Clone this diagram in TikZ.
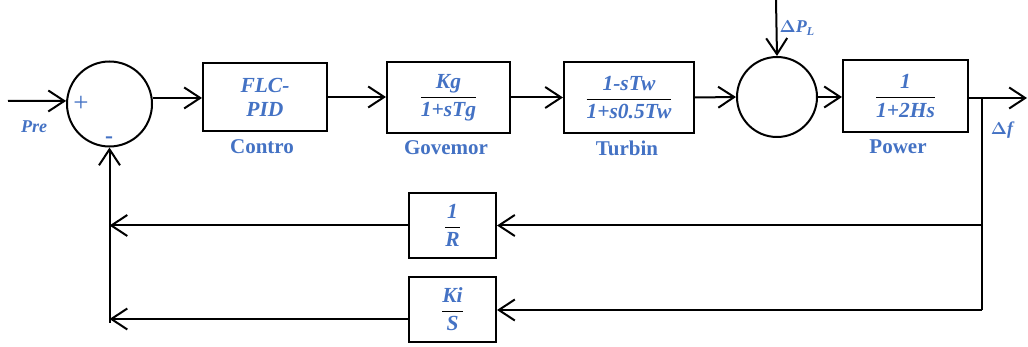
\documentclass[tikz,border=0pt]{standalone}
\usepackage{fontspec}
\usepackage{amsmath}
\setmainfont{Liberation Serif}
\usetikzlibrary{arrows.meta}
\definecolor{myblue}{RGB}{68,114,196}
\newcommand{\bfr}[2]{$\displaystyle\color{black}\frac{\color{myblue}\text{#1}}{\color{myblue}\text{#2}}$}
\begin{document}
\begin{tikzpicture}[x=1pt,y=-1pt,
  line width=2pt,
  arr/.style={-{Straight Barb[length=16pt,width=21pt,line width=2pt]}},
  blk/.style={draw, rectangle, inner sep=0pt, text=myblue, align=center,
    font=\fontsize{21.5}{24}\selectfont\bfseries\itshape},
  sumc/.style={draw, circle, inner sep=0pt},
  lbl/.style={text=myblue, inner sep=0pt, font=\fontsize{21}{22}\selectfont\bfseries},
  ilbl/.style={text=myblue, inner sep=0pt, font=\fontsize{18}{20}\selectfont\bfseries\itshape}]
\useasboundingbox (0,0) rectangle (1028,347);

% summing junctions
\node[sumc, minimum size=85pt] (s1) at (109.5,104) {};
\node[sumc, minimum size=80pt] (s2) at (777,97) {};

% blocks
\node[blk, minimum width=124pt, minimum height=68pt] (flc) at (265,97) {FLC-\\PID};
\node[blk, minimum width=123pt, minimum height=71pt] (gov) at (448.5,97.5) {\bfr{Kg}{1+sTg}};
\node[blk, minimum width=130pt, minimum height=71pt] (tur) at (629,97.5) {\bfr{1-sTw}{1+s0.5Tw}};
\node[blk, minimum width=125pt, minimum height=72pt] (pow) at (905.5,96) {\bfr{1}{1+2Hs}};
\node[blk, minimum width=87pt, minimum height=65pt] (rbox) at (452.5,225.5) {\bfr{1}{R}};
\node[blk, minimum width=87pt, minimum height=65pt] (kbox) at (452.5,309.5) {\bfr{Ki}{S}};

% labels
\node[lbl] (lcon) at (262,147) {Contro};
\node[lbl] (lgov) at (446,148) {Govemor};
\node[lbl] (ltur) at (627,148) {Turbin};
\node[lbl] (lpow) at (898,147) {Power};
\node[ilbl] (lpre) at (34,127) {Pre};
\node[text=myblue, inner sep=0pt, font=\fontsize{27}{28}\selectfont] (lplus) at (81,104) {+};
\node[text=myblue, inner sep=0pt, font=\fontsize{24}{26}\selectfont\bfseries] (lminus) at (109,140) {-};
\node[text=myblue, inner sep=0pt, font=\fontsize{18}{20}\selectfont\bfseries] (lpl) at (797,28) {$\boldsymbol{\Delta}$\textit{P}\raisebox{-0.35ex}{\fontsize{12}{13}\selectfont\textit{L}}};
\node[ilbl] (ldf) at (1002,130) {$\boldsymbol{\Delta}$\textit{f}};

% coordinates
\coordinate (in) at (8,101);
\coordinate (out) at (1027,98);
\coordinate (pl) at (776,0);
\coordinate (br) at (982,98);
\coordinate (brb) at (982,310);
\coordinate (fbl) at (109.5,323);

% forward path
\draw[arr] (in) -- (s1.176);
\draw[arr] (s1.8) -- (s1.8 -| flc.west);
\draw[arr] (flc.east) -- (flc.east -| gov.west);
\draw[arr] (gov.east) -- (gov.east -| tur.west);
\draw[arr] (tur.east) -- (s2.west);
\draw[arr] (s2.east) -- (s2.east -| pow.west);
\draw[arr] (pow.east |- out) -- (out);
\draw[arr] (pl) -- (s2.north);

% feedback
\draw (br) -- (brb);
\draw[arr] (br |- rbox.east) -- (rbox.east);
\draw[arr] (brb) -- (brb -| kbox.east);
\draw[arr] (rbox.west) -- (rbox.west -| fbl);
\draw[arr] ([yshift=-9.5pt]kbox.west) -- ([yshift=-9.5pt]kbox.west -| fbl);
\draw[arr] (fbl) -- (s1.south);
\end{tikzpicture}
\end{document}
